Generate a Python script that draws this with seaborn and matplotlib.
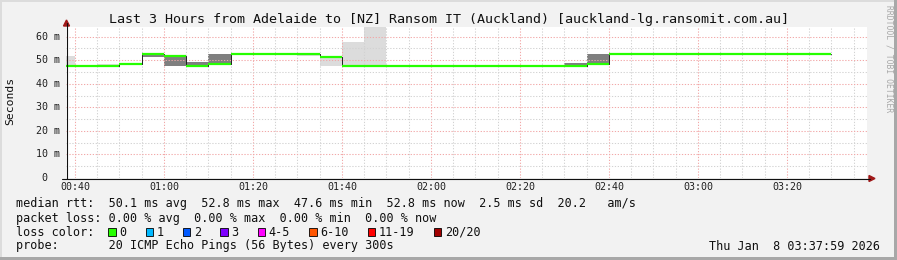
import numpy as np
import pandas as pd
import matplotlib
matplotlib.use("Agg")
import matplotlib.pyplot as plt
import seaborn as sns
from matplotlib.lines import Line2D
from matplotlib.patches import Rectangle, Polygon

# ---------------- data ----------------
bin_start = ["00:35", "00:40", "00:45", "00:50", "00:55", "01:00", "01:05", "01:10",
             "01:15", "01:20", "01:25", "01:30", "01:35", "01:40", "01:45", "01:50",
             "01:55", "02:00", "02:05", "02:10", "02:15", "02:20", "02:25", "02:30",
             "02:35", "02:40", "02:45", "02:50", "02:55", "03:00", "03:05", "03:10",
             "03:15", "03:20", "03:25"]
median_ms = [47.6, 47.6, 47.6, 48.3, 52.5, 51.8, 47.6, 48.4,
             52.7, 52.7, 52.7, 52.7, 51.4, 47.6, 47.6, 47.6,
             47.6, 47.6, 47.6, 47.6, 47.6, 47.6, 47.6, 47.6,
             48.3, 52.8, 52.8, 52.8, 52.8, 52.8, 52.8, 52.8,
             52.8, 52.8, 52.8]
smoke_lo = [47.5, None, 47.5, None, 51.5, 47.6, 47.6, 48.3,
            None, None, None, 51.9, 47.6, 47.6, 47.6, None,
            None, 47.5, None, None, None, None, None, 47.5,
            48.3, None, None, None, None, None, None, None,
            None, None, None]
smoke_hi = [51.8, None, 48.3, None, 52.7, 51.8, 49.4, 52.8,
            None, None, None, 52.6, 51.6, 57.7, 66.0, None,
            None, 48.2, None, None, None, None, None, 49.0,
            52.8, None, None, None, None, None, None, None,
            None, None, None]
smoke_shade = ["light", None, "light", None, "dark", "dark", "dark", "dark",
               None, None, None, "light", "light", "light", "light", None,
               None, "light", None, None, None, None, None, "dark",
               "dark", None, None, None, None, None, None, None,
               None, None, None]
bin_minutes = 5
x_ticks = ["00:40", "01:00", "01:20", "01:40", "02:00", "02:20", "02:40", "03:00", "03:20"]
y_ticks = [0, 10, 20, 30, 40, 50, 60]
y_tick_labels = [" 0", "10 m", "20 m", "30 m", "40 m", "50 m", "60 m"]
view_start = "00:37:59"
view_end = "03:37:59"

title = "Last 3 Hours from Adelaide to [NZ] Ransom IT (Auckland) [auckland-lg.ransomit.com.au]"
legend_lines = [
    "median rtt:  50.1 ms avg  52.8 ms max  47.6 ms min  52.8 ms now  2.5 ms sd  20.2   am/s",
    "packet loss: 0.00 % avg  0.00 % max  0.00 % min  0.00 % now",
    "loss color:",
    "probe:       20 ICMP Echo Pings (56 Bytes) every 300s",
]
loss_labels = ["0", "1", "2", "3", "4-5", "6-10", "11-19", "20/20"]
loss_colors = ["#26ff00", "#00b8ff", "#0059ff", "#7e00ff", "#ff00ff", "#ff5500", "#ff0000", "#a10000"]
date_text = "Thu Jan  8 03:37:59 2026"
watermark = "RRDTOOL / TOBI OETIKER"


def to_min(s):
    parts = [int(p) for p in s.split(":")]
    m = parts[0] * 60 + parts[1]
    if len(parts) > 2:
        m += parts[2] / 60.0
    return m


# ---------------- figure ----------------
W, H = 897, 260
sns.set_style("white")
MONO = "DejaVu Sans Mono"
plt.rcParams["font.family"] = [MONO, "DejaVu Sans"]

BG = "#f2f2f2"
fig = plt.figure(figsize=(W / 100, H / 100), dpi=100, facecolor=BG)

ax_l, ax_r, ax_t, ax_b = 66, 867, 27.3, 178
ax = fig.add_axes([ax_l / W, 1 - ax_b / H, (ax_r - ax_l) / W, (ax_b - ax_t) / H])
ax.set_facecolor("white")

xs = np.array([to_min(s) for s in bin_start], dtype=float)
x0, x1 = to_min(view_start), to_min(view_end)
ax.set_xlim(x0, x1)
ax.set_ylim(0, 64)

# smoke
lo = np.array([np.nan if v is None else v for v in smoke_lo])
hi = np.array([np.nan if v is None else v for v in smoke_hi])
shade_col = {"light": "#dcdcdc", "dark": "#7f7f7f"}
for shade in ("light", "dark"):
    m = np.array([s == shade for s in smoke_shade])
    ax.bar(xs[m], hi[m] - lo[m], bottom=lo[m], width=bin_minutes, align="edge",
           color=shade_col[shade], linewidth=0, zorder=2)

# grid (dotted, drawn over smoke)
minor_col = "#d2d2d2"
major_col = "#f2a8a8"
dots = (0, (1.2, 1.6))
for xm in np.arange(to_min(x_ticks[0]), x1, 5):
    is_major = abs((xm - to_min(x_ticks[0])) % 20) < 1e-6
    ax.axvline(xm, color=major_col if is_major else minor_col, lw=0.75,
               linestyle=dots, zorder=2.2)
for yv in np.arange(5, 64, 5):
    ax.axhline(yv, color=major_col if yv % 10 == 0 else minor_col, lw=0.75,
               linestyle=dots, zorder=2.2)

# median: thin dark step line + thick loss-colored segments
df = pd.DataFrame({"t": np.append(xs, xs[-1] + bin_minutes),
                   "median": np.append(median_ms, median_ms[-1])})
sns.lineplot(data=df, x="t", y="median", ax=ax, estimator=None, sort=True,
             drawstyle="steps-post", color="#202020", lw=0.7, zorder=2.5)
ax.hlines(median_ms, xs, xs + bin_minutes, colors=loss_colors[0], lw=1.6,
          zorder=3, capstyle="butt")

ax.set_xlabel("")
ax.set_ylabel("")
for sp in ax.spines.values():
    sp.set_visible(False)
ax.set_xticks([to_min(t) for t in x_ticks])
ax.set_xticklabels(x_ticks, fontsize=7.2, family=MONO, color="#202020")
ax.set_yticks([])
ax.tick_params(axis="x", length=0, pad=3.2)

# y tick labels (monospace, left aligned like rrdtool)
ytr = ax.get_yaxis_transform()
for v, lab in zip(y_ticks, y_tick_labels):
    ax.text((36 - ax_l) / (ax_r - ax_l), v, lab, transform=ytr, ha="left", va="center",
            fontsize=7.2, family=MONO, color="#202020")


def fx(x):
    return x / W


def fy(y):
    return 1 - y / H


# axes lines and arrows
fig.add_artist(Line2D([fx(66.5), fx(66.5)], [fy(178.5), fy(23)], color="#101010", lw=0.8))
fig.add_artist(Line2D([fx(62), fx(870)], [fy(178.5), fy(178.5)], color="#101010", lw=0.8))
arrow_col = "#a01818"
fig.add_artist(Polygon([[fx(63.5), fy(26)], [fx(69.5), fy(26)], [fx(66.5), fy(20)]],
                       closed=True, color=arrow_col, transform=fig.transFigure))
fig.add_artist(Polygon([[fx(869), fy(175.5)], [fx(869), fy(181.5)], [fx(875), fy(178.5)]],
                       closed=True, color=arrow_col, transform=fig.transFigure))

# texts
fig.text(fx(448.5), fy(19.3), title, ha="center", va="center", fontsize=9.6, family=MONO,
         color="#101010")
fig.text(fx(10), fy(101), "Seconds", rotation=90, ha="center", va="center", fontsize=8.2,
         family=MONO, color="#101010")
fig.text(fx(889), fy(5), watermark, rotation=270, ha="center", va="top", fontsize=5.8,
         family=MONO, color="#a8a8a8")

row_y = [204, 218.3, 232, 246]
for txt, yy in zip(legend_lines, row_y):
    fig.text(fx(16), fy(yy), txt, ha="left", va="center", fontsize=8.5, family=MONO,
             color="#101010")
fig.text(fx(880), fy(246), date_text, ha="right", va="center", fontsize=8.5, family=MONO,
         color="#101010")

char_w = 7.13
bx = 108.3
for lab, col in zip(loss_labels, loss_colors):
    fig.add_artist(Rectangle((fx(bx), fy(235.5)), 7.5 / W, 7.5 / H, facecolor=col,
                             edgecolor="#000000", lw=0.6, transform=fig.transFigure))
    fig.text(fx(bx + 11.2), fy(232), lab, ha="left", va="center", fontsize=8.5,
             family=MONO, color="#101010")
    bx += 30.2 + len(lab) * char_w

# frame shading
fig.add_artist(Rectangle((0, fy(2)), 1, 2 / H, facecolor="#dcdcdc", lw=0, transform=fig.transFigure))
fig.add_artist(Rectangle((0, 0), 2 / W, 1, facecolor="#dcdcdc", lw=0, transform=fig.transFigure))
fig.add_artist(Rectangle((0, 0), 1, 3 / H, facecolor="#a8a8a8", lw=0, transform=fig.transFigure))
fig.add_artist(Rectangle((fx(W - 3), 0), 3 / W, 1, facecolor="#a8a8a8", lw=0, transform=fig.transFigure))

fig.savefig("out.png", dpi=100, facecolor=BG)
